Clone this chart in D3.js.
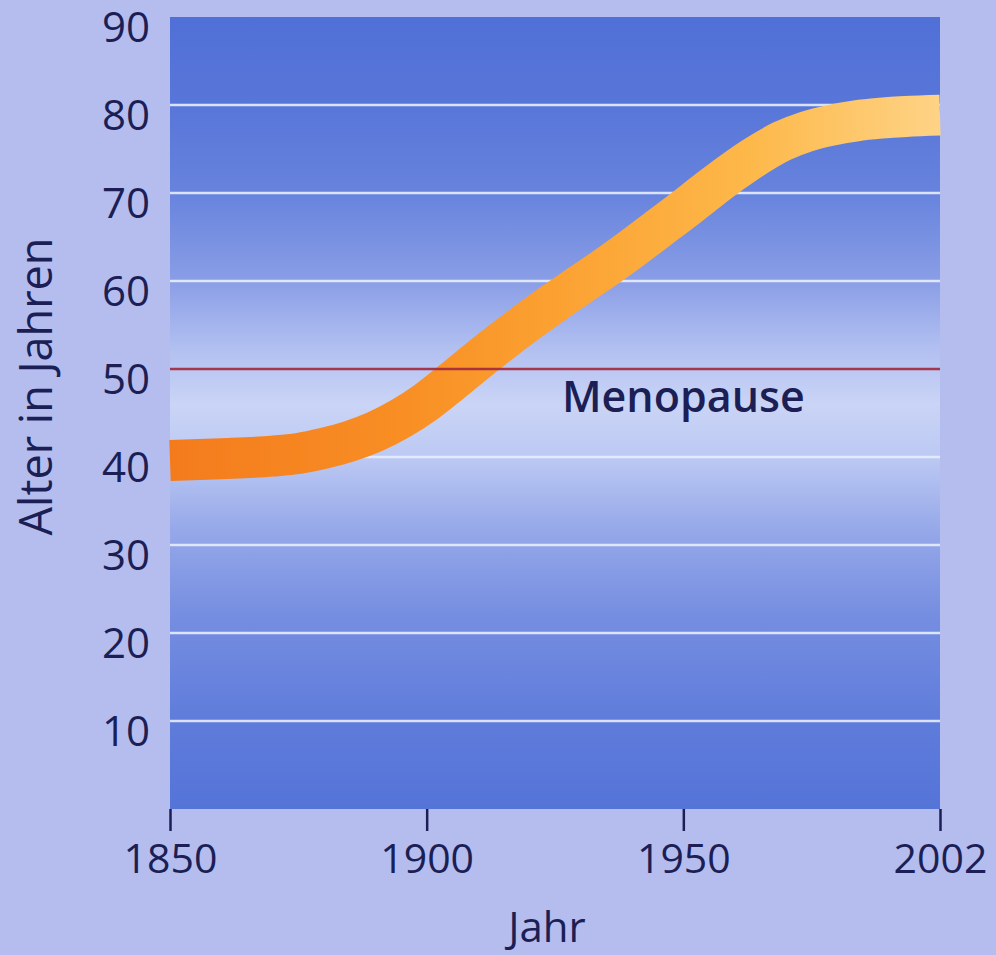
<!DOCTYPE html>
<html>
<head>
<meta charset="utf-8">
<script src="https://cdn.jsdelivr.net/npm/d3@7"></script>
<style>
  html, body { margin: 0; padding: 0; background: #b5bdef; }
  svg { display: block; }
  text { font-family: "Open Sans", "Noto Sans", sans-serif; fill: #1b1f55; }
</style>
</head>
<body>
<svg id="chart" width="996" height="955"></svg>
<script>
// ---- data ----
const years = [1850, 1860, 1870, 1875, 1880, 1885, 1890, 1895, 1900, 1905, 1910, 1915, 1920, 1925, 1930, 1935, 1940, 1945, 1950, 1955, 1960, 1965, 1970, 1975, 1980, 1985, 1990, 1995, 2002];
const lifeExpectancy = [39.6, 39.8, 40.1, 40.4, 41.0, 41.8, 42.9, 44.4, 46.3, 48.6, 51.0, 53.3, 55.5, 57.6, 59.6, 61.6, 63.7, 65.9, 68.1, 70.3, 72.4, 74.3, 75.9, 77.0, 77.7, 78.2, 78.5, 78.7, 78.85];
const menopauseAge = 50;
const yTicks = [10, 20, 30, 40, 50, 60, 70, 80, 90];
const xTicks = [1850, 1900, 1950, 2002];
const xLabel = "Jahr";
const yLabel = "Alter in Jahren";
const refLabel = "Menopause";

// ---- layout ----
const svg = d3.select("#chart");
const plotLeft = 170, plotRight = 940, plotTop = 17, plotBottom = 809;

// ticks are evenly spaced in the original, so use a piecewise-linear scale
const x = d3.scaleLinear()
  .domain(xTicks)
  .range(xTicks.map((d, i) => plotLeft + (plotRight - plotLeft) * i / (xTicks.length - 1)));
const y = d3.scaleLinear().domain([0, 90]).range([plotBottom, plotTop]);

const defs = svg.append("defs");
const bg = defs.append("linearGradient").attr("id", "bg")
  .attr("gradientUnits", "userSpaceOnUse")
  .attr("x1", 0).attr("x2", 0).attr("y1", y(90)).attr("y2", y(0));
[[90, "#5170d7"], [80, "#5876d9"], [70, "#6783dd"], [60, "#8a9ee6"], [52, "#b3c1f1"],
 [46, "#cad4f6"], [40, "#bcc9f3"], [32, "#97a9e9"], [22, "#768ee1"], [10, "#5f7cdb"], [0, "#5574d8"]]
  .forEach(([v, c]) => bg.append("stop").attr("offset", (90 - v) / 90).attr("stop-color", c));

const band = defs.append("linearGradient").attr("id", "band")
  .attr("gradientUnits", "userSpaceOnUse")
  .attr("x1", plotLeft).attr("x2", plotRight).attr("y1", 0).attr("y2", 0);
[[0, "#f47b1c"], [0.3, "#f88e24"], [0.5, "#fba132"], [0.75, "#fdb849"], [1, "#fed386"]]
  .forEach(([o, c]) => band.append("stop").attr("offset", o).attr("stop-color", c));

// plot background
svg.append("rect")
  .attr("x", plotLeft).attr("y", y(90))
  .attr("width", plotRight - plotLeft).attr("height", y(0) - y(90))
  .attr("fill", "url(#bg)");

// grid lines
svg.append("g").selectAll("line")
  .data(yTicks.filter(d => d !== 90 && d !== menopauseAge))
  .join("line")
  .attr("x1", plotLeft).attr("x2", plotRight)
  .attr("y1", d => y(d)).attr("y2", d => y(d))
  .attr("stroke", "#e8eeff").attr("stroke-width", 2.5).attr("opacity", 0.9);

// life expectancy band
const line = d3.line().x((d, i) => x(years[i])).y(d => y(d)).curve(d3.curveMonotoneX);
svg.append("path")
  .attr("d", line(lifeExpectancy))
  .attr("fill", "none")
  .attr("stroke", "url(#band)")
  .attr("stroke-width", 41)
  .attr("stroke-linecap", "butt");

// menopause line
svg.append("line")
  .attr("x1", plotLeft).attr("x2", plotRight)
  .attr("y1", y(menopauseAge)).attr("y2", y(menopauseAge))
  .attr("stroke", "#a3283c").attr("stroke-width", 2.5).attr("opacity", 0.9);

svg.append("text")
  .attr("x", x(1950)).attr("y", y(menopauseAge) + 43)
  .attr("text-anchor", "middle")
  .style("font-size", "43px").style("font-weight", 600)
  .text(refLabel);

// axes
const yAxis = svg.append("g")
  .attr("transform", `translate(${plotLeft},0)`)
  .call(d3.axisLeft(y).tickValues(yTicks).tickSize(0).tickPadding(20));
yAxis.select(".domain").remove();
yAxis.selectAll("text").attr("dy", "0.58em").style("font-size", "42px").attr("fill", "#1b1f55");

const xAxis = svg.append("g")
  .attr("transform", `translate(0,${plotBottom})`)
  .call(d3.axisBottom(x).tickValues(xTicks).tickFormat(d3.format("d")).tickSize(22).tickPadding(13));
xAxis.select(".domain").remove();
xAxis.selectAll("line").attr("stroke", "#1b1f55").attr("stroke-width", 2.5);
xAxis.selectAll("text").style("font-size", "41px").attr("fill", "#1b1f55");

// axis titles
svg.append("text")
  .attr("x", (plotLeft + plotRight) / 2 - 8).attr("y", 942)
  .attr("text-anchor", "middle")
  .style("font-size", "42px")
  .text(xLabel);

svg.append("text")
  .attr("transform", `translate(52,${(235 + 538) / 2}) rotate(-90)`)
  .attr("text-anchor", "middle")
  .style("font-size", "45px")
  .text(yLabel);
</script>
</body>
</html>
